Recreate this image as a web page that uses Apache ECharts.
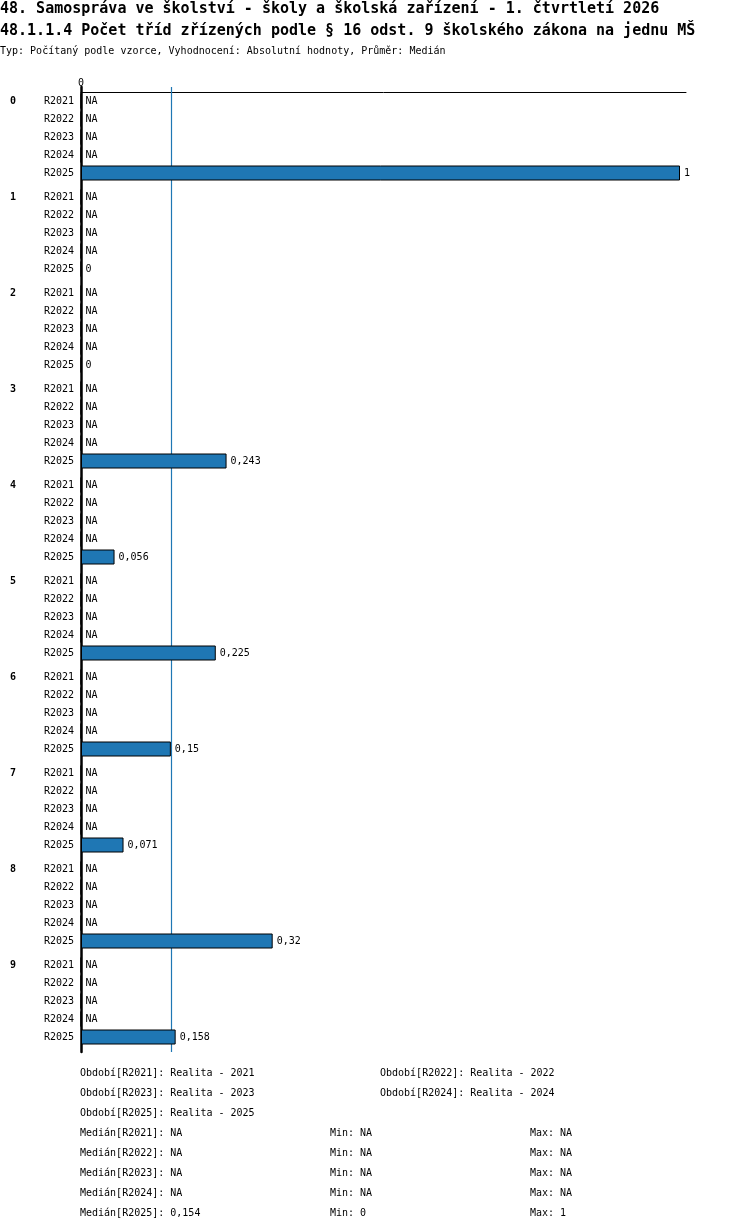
<!DOCTYPE html>
<html>
<head>
<meta charset="utf-8">
<script src="https://cdn.jsdelivr.net/npm/echarts@6/dist/echarts.min.js"></script>
<style>
  html, body { margin: 0; padding: 0; background: #fff; }
  #chart { width: 750px; height: 1232px; }
</style>
</head>
<body>
<div id="chart"></div>
<script>
var FONT = '"DejaVu Sans Mono", monospace';

var titleLines = [
  '48. Samospráva ve školství - školy a školská zařízení - 1. čtvrtletí 2026',
  '48.1.1.4 Počet tříd zřízených podle § 16 odst. 9 školského zákona na jednu MŠ'
];
var subTitle = 'Typ: Počítaný podle vzorce, Vyhodnocení: Absolutní hodnoty, Průměr: Medián';

var groups = ['0', '1', '2', '3', '4', '5', '6', '7', '8', '9'];
var years = ['R2021', 'R2022', 'R2023', 'R2024', 'R2025'];
var periodNames = ['Realita - 2021', 'Realita - 2022', 'Realita - 2023', 'Realita - 2024', 'Realita - 2025'];

// values per year, one entry per group (null = NA)
var r2021 = [null, null, null, null, null, null, null, null, null, null];
var r2022 = [null, null, null, null, null, null, null, null, null, null];
var r2023 = [null, null, null, null, null, null, null, null, null, null];
var r2024 = [null, null, null, null, null, null, null, null, null, null];
var r2025 = [1, 0, 0, 0.243, 0.056, 0.225, 0.15, 0.071, 0.32, 0.158];
var byYear = [r2021, r2022, r2023, r2024, r2025];

var medians = [null, null, null, null, 0.154];
var mins = [null, null, null, null, 0];
var maxs = [null, null, null, null, 1];

function fmt(v) {
  return v === null ? 'NA' : String(v).replace('.', ',');
}

var myChart = echarts.init(document.getElementById('chart'));

var grids = [], xAxes = [], yAxes = [], series = [];
var textStyle = { fontFamily: FONT, fontSize: 10, color: '#000' };

groups.forEach(function (g, gi) {
  grids.push({ left: 81, right: 64, top: 92 + gi * 96, height: 90 });
  xAxes.push({ gridIndex: gi, type: 'value', min: 0, max: 1.01, show: false });
  yAxes.push({
    gridIndex: gi, type: 'category', inverse: true, data: years,
    axisLine: { show: false }, axisTick: { show: false },
    axisLabel: Object.assign({ margin: 7 }, textStyle)
  });
  yAxes.push({
    gridIndex: gi, type: 'category', inverse: true, position: 'left',
    data: [g, ' ', '  ', '   ', '    '],
    axisLine: { show: false }, axisTick: { show: false },
    axisLabel: Object.assign({ margin: 71, align: 'left', fontWeight: 'bold', interval: 0 }, textStyle)
  });
  series.push({
    type: 'bar', xAxisIndex: gi, yAxisIndex: gi * 2, barWidth: 15, z: 3,
    itemStyle: { color: '#1f77b4', borderColor: '#000', borderWidth: 1 },
    label: {
      show: true, position: 'right', distance: 4,
      fontFamily: FONT, fontSize: 10, color: '#000',
      formatter: function (p) { return p.data.na ? 'NA' : fmt(p.data.value); }
    },
    data: years.map(function (y, yi) {
      var v = byYear[yi][gi];
      return v === null ? { value: 0, na: true } : { value: v };
    })
  });
});

// frame grid: top axis line, left vertical axis and the median line
var fi = groups.length;
grids.push({ left: 81, right: 64, top: 87, bottom: 180 });
xAxes.push({
  gridIndex: fi, type: 'value', position: 'top', offset: -5,
  min: 0, max: 1.01, interval: 0.01,
  axisLine: { show: true, onZero: false, lineStyle: { color: '#000', width: 1 } },
  axisTick: { show: false }, splitLine: { show: false },
  axisLabel: Object.assign({
    margin: 4, showMaxLabel: false,
    formatter: function (v) { return Math.abs(v) < 1e-9 ? '0' : ''; }
  }, textStyle)
});
yAxes.push({
  gridIndex: fi, type: 'value', min: 0, max: 1,
  axisLine: { show: true, onZero: true, lineStyle: { color: '#000', width: 2.5 } },
  axisTick: { show: false }, axisLabel: { show: false }, splitLine: { show: false }
});
series.push({
  type: 'line', xAxisIndex: fi, yAxisIndex: yAxes.length - 1, data: [],
  color: '#1f77b4', z: 1,
  markLine: {
    silent: true, symbol: 'none', label: { show: false }, z: 1,
    lineStyle: { color: '#1f77b4', width: 1.2, type: 'solid', opacity: 1 },
    emphasis: { disabled: true },
    data: [{ xAxis: medians[4] }]
  }
});

// legend texts below the chart
var graphics = [];
years.forEach(function (y, i) {
  graphics.push({
    type: 'text', left: 80 + (i % 2) * 300, top: 1068 + Math.floor(i / 2) * 20,
    style: { text: 'Období[' + y + ']: ' + periodNames[i], font: '10px ' + FONT, fill: '#000' }
  });
  var rowTop = 1128 + i * 20;
  graphics.push({
    type: 'text', left: 80, top: rowTop,
    style: { text: 'Medián[' + y + ']: ' + fmt(medians[i]), font: '10px ' + FONT, fill: '#000' }
  });
  graphics.push({
    type: 'text', left: 330, top: rowTop,
    style: { text: 'Min: ' + fmt(mins[i]), font: '10px ' + FONT, fill: '#000' }
  });
  graphics.push({
    type: 'text', left: 530, top: rowTop,
    style: { text: 'Max: ' + fmt(maxs[i]), font: '10px ' + FONT, fill: '#000' }
  });
});

myChart.setOption({
  animation: false,
  backgroundColor: '#fff',
  title: [{
    text: titleLines.join('\n'), left: 0, top: -2, padding: 0,
    textStyle: { fontFamily: FONT, fontSize: 15, fontWeight: 'bold', color: '#000', lineHeight: 22 }
  }, {
    text: subTitle, left: 0, top: 46, padding: 0,
    textStyle: { fontFamily: FONT, fontSize: 10, fontWeight: 'normal', color: '#000' }
  }],
  grid: grids,
  xAxis: xAxes,
  yAxis: yAxes,
  series: series,
  graphic: graphics
});
</script>
</body>
</html>
